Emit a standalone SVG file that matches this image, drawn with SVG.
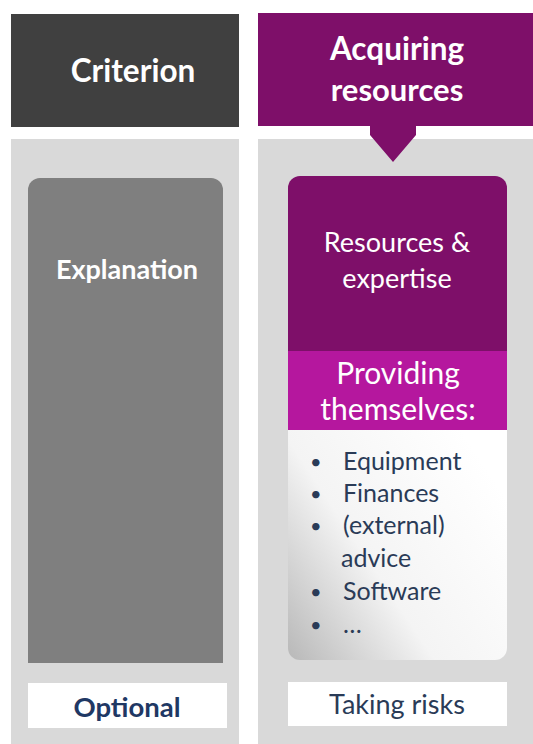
<svg xmlns="http://www.w3.org/2000/svg" width="533" height="744" viewBox="0 0 533 744">
<defs>
<style>
.t{font-family:Lato,"Open Sans","Liberation Sans",sans-serif}
.w{fill:#ffffff}
.b{font-weight:bold}
.n{fill:#1f3864}
.l{fill:#2a3b57;font-size:25px}
.d{font-size:20px}
</style>
<linearGradient id="g" x1="0" y1="1" x2="1" y2="0.3">
<stop offset="0" stop-color="#b8b8b8"/>
<stop offset="0.45" stop-color="#f4f4f4"/>
<stop offset="1" stop-color="#ffffff"/>
</linearGradient>
<clipPath id="c"><rect x="288" y="176" width="219" height="484" rx="12"/></clipPath>
</defs>
<rect width="533" height="744" fill="#ffffff"/>
<g id="col-left">
<rect x="11" y="139" width="228" height="605" fill="#d9d9d9"/>
</g>
<g id="col-right">
<rect x="258" y="139" width="275" height="605" fill="#d9d9d9"/>
</g>
<g id="criterion">
<rect x="11" y="14" width="228" height="113" fill="#404040"/>
<text class="t w b" x="133" y="82" font-size="31.5" text-anchor="middle">Criterion</text>
</g>
<g id="acquiring">
<path d="M258 13H533V126H416V135L393 162L370 135V126H258Z" fill="#7e0f69"/>
<text class="t w b" x="397" y="60" font-size="31.5" text-anchor="middle">Acquiring</text>
<text class="t w b" x="397" y="101" font-size="31" text-anchor="middle">resources</text>
</g>
<g id="explanation">
<path d="M40 178H211A12 12 0 0 1 223 190V663H28V190A12 12 0 0 1 40 178Z" fill="#7f7f7f"/>
<text class="t w b" x="127" y="279" font-size="27" text-anchor="middle">Explanation</text>
</g>
<g id="resources">
<g clip-path="url(#c)">
<rect x="288" y="176" width="219" height="175" fill="#7e0f69"/>
<rect x="288" y="351" width="219" height="79" fill="#b5179e"/>
<rect x="288" y="430" width="219" height="230" fill="url(#g)"/>
</g>
<text class="t w" x="397" y="252" font-size="27" text-anchor="middle">Resources &amp;</text>
<text class="t w" x="397" y="288" font-size="27" text-anchor="middle">expertise</text>
<text class="t w" x="398" y="384" font-size="30" text-anchor="middle">Providing</text>
<text class="t w" x="398" y="420" font-size="30" text-anchor="middle">themselves:</text>
<g class="t l">
<text class="d" x="310" y="469">•</text><text x="343" y="470">Equipment</text>
<text class="d" x="310" y="501">•</text><text x="343" y="502">Finances</text>
<text class="d" x="310" y="533">•</text><text x="343" y="534">(external)</text>
<text x="341" y="567">advice</text>
<text class="d" x="310" y="599">•</text><text x="343" y="600">Software</text>
<text class="d" x="310" y="632">•</text><text x="343" y="633">…</text>
</g>
</g>
<g id="optional">
<rect x="28" y="683" width="199" height="45" fill="#ffffff"/>
<text class="t n b" x="127" y="717" font-size="27.5" text-anchor="middle">Optional</text>
</g>
<g id="taking-risks">
<rect x="288" y="682" width="219" height="44" fill="#ffffff"/>
<text class="t" x="397" y="714" font-size="27" fill="#2a3b57" text-anchor="middle">Taking risks</text>
</g>
<g id="connectors"></g>
</svg>
